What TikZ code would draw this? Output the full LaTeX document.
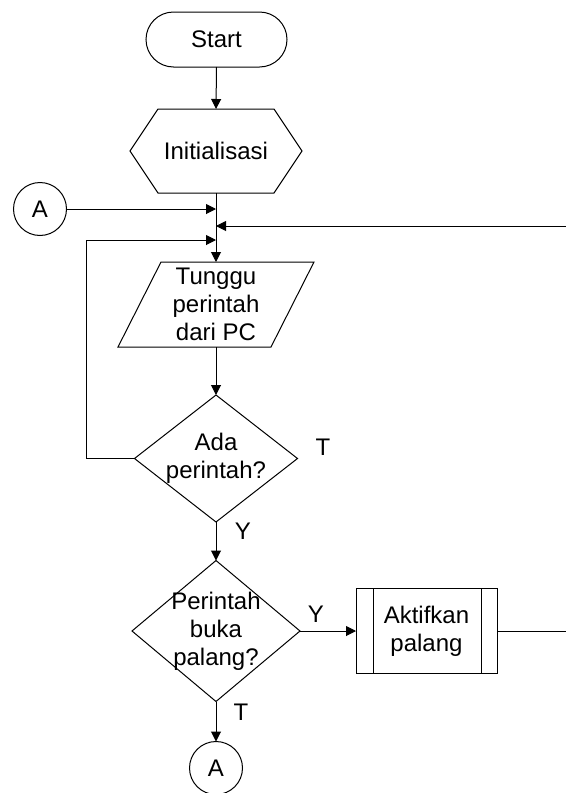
\documentclass[tikz,border=0pt]{standalone}
\usepackage{fontspec}
\setmainfont{Liberation Sans}
\usetikzlibrary{arrows.meta,calc}
\begin{document}
\begin{tikzpicture}[x=0.5pt,y=-0.5pt,
  every node/.style={font=\fontsize{12}{14}\selectfont, inner sep=0pt, outer sep=0pt},
  line/.style={line width=0.5pt},
  arr/.style={line width=0.5pt,-{Triangle[length=5pt,width=5pt]}},
  term/.style={draw,line width=0.5pt,rounded corners=13.75pt,minimum width=70.5pt,minimum height=27.5pt},
  conn/.style={circle,draw,line width=0.5pt,minimum size=26.5pt},
  txtbox/.style={align=center},
  proc/.style={draw,line width=0.5pt,align=center,minimum width=70.5pt,minimum height=42.5pt}
]
\useasboundingbox (0,0) rectangle (566,793);

% nodes
\node[term] (start) at (216.5,39.5) {Start};
\node[txtbox,minimum width=86pt,minimum height=42pt] (init) at (216,151) {Initialisasi};
\draw[line] ([xshift=14pt]init.north west) -- ([xshift=-14pt]init.north east) -- (init.east)
  -- ([xshift=-14pt]init.south east) -- ([xshift=14pt]init.south west) -- (init.west) -- cycle;

\node[conn] (a1) at (40,209) {A};

\node[txtbox,minimum width=98pt,minimum height=42.5pt] (io) at (216,304.5) {Tunggu\\perintah\\dari PC};
\draw[line] ([xshift=21.5pt]io.north west) -- (io.north east) -- ([xshift=-21.5pt]io.south east)
  -- (io.south west) -- cycle;

\node[txtbox,minimum width=81.5pt,minimum height=63.5pt] (d1) at (216,458.5) {Ada\\perintah?};
\draw[line] (d1.north) -- (d1.east) -- (d1.south) -- (d1.west) -- cycle;

\node[txtbox,minimum width=84pt,minimum height=70.5pt] (d2) at (216,631) {Perintah\\buka\\palang?};
\draw[line] (d2.north) -- (d2.east) -- (d2.south) -- (d2.west) -- cycle;

\node[proc] (pr) at (426.5,631) {Aktifkan\\palang};
\draw[line] ([xshift=8.5pt]pr.north west) -- ([xshift=8.5pt]pr.south west);
\draw[line] ([xshift=-8pt]pr.north east) -- ([xshift=-8pt]pr.south east);

\node[conn] (a2) at (216,768) {A};

% labels
\node (t1) at (323,447) {T};
\node (y1) at (243,531) {Y};
\node (y2) at (316,614) {Y};
\node (t2) at (241,712) {T};

% free ends
\coordinate (lp) at (86,240);
\coordinate (rin) at (566,226);
\coordinate (rout) at (566,631);

% connectors
\draw[arr] (start.south) -- (init.north);
\draw[arr] (init.south) -- (io.north);
\draw[arr] (a1.east) -- (a1.east -| init.south);
\draw[arr] (rin) -- (rin -| init.south);
\draw[arr] (d1.west) -| (lp) -- (lp -| init.south);
\draw[arr] (io.south) -- (d1.north);
\draw[arr] (d1.south) -- (d2.north);
\draw[arr] (d2.east) -- (pr.west);
\draw[line] (pr.east) -- (rout);
\draw[arr] (d2.south) -- (a2.north);
\end{tikzpicture}
\end{document}
